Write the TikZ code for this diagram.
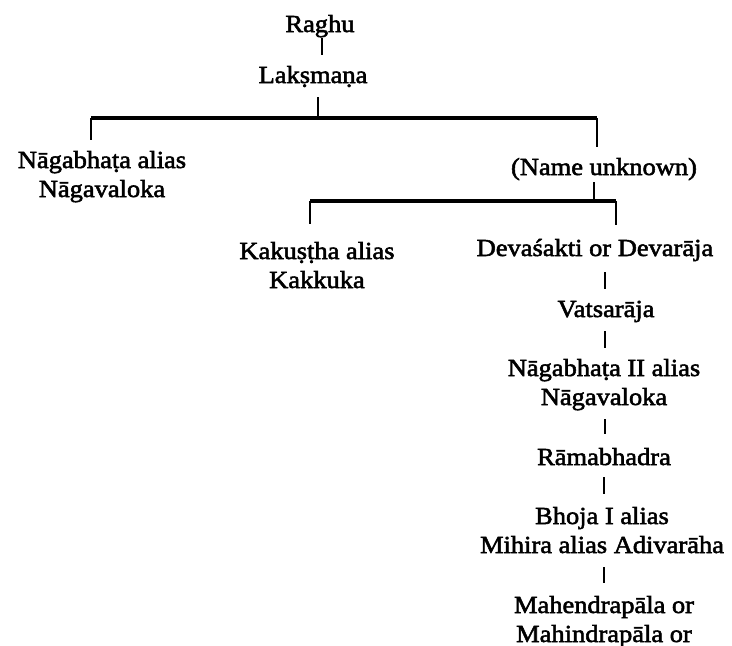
\documentclass[tikz,border=0pt]{standalone}
\usepackage{fontspec}
\setmainfont{Liberation Serif}[FakeStretch=1.08,FakeBold=2.2]
\usetikzlibrary{calc}
\begin{document}
\begin{tikzpicture}[x=1pt,y=-1pt,
  person/.style={inner sep=0pt,outer sep=0pt,align=center,anchor=base,font=\fontsize{24.5}{29}\selectfont},
  vline/.style={line width=2.6pt},
  bar/.style={line width=3.6pt},
  drop/.style={line width=2.8pt}]
\useasboundingbox (0,0) rectangle (732,646);
% nodes (anchor = baseline of the last line)
\node[person] (raghu) at (320,32) {Raghu};
\node[person] (laks) at (313,83) {Lakṣmaṇa};
\node[person] (nag1) at (102,197) {Nāgabhaṭa alias\\Nāgavaloka};
\node[person] (nu) at (604,175) {(Name unknown)};
\node[person] (kak) at (317,288) {Kakuṣṭha alias\\Kakkuka};
\node[person] (dev) at (595,256) {Devaśakti or Devarāja};
\node[person] (vat) at (606,317) {Vatsarāja};
\node[person] (nag2) at (604,405) {Nāgabhaṭa II alias\\Nāgavaloka};
\node[person] (rama) at (604,465) {Rāmabhadra};
\node[person] (bhoja) at (602,553) {Bhoja I alias\\Mihira alias Adivarāha};
\node[person] (mahe) at (604,642) {Mahendrapāla or\\Mahindrapāla or};
% bar coordinates
\coordinate (j1) at (318,118);
\coordinate (b1l) at (91,118);
\coordinate (b1r) at (597,118);
\coordinate (j2) at (594,201);
\coordinate (b2l) at (310,201);
\coordinate (b2r) at (616,201);
% connectors
\draw[vline] ($(raghu.base)+(2,6)$) -- ($(laks.base)+(9,-28)$);
\draw[vline] ($(laks.base)+(5,14)$) -- (j1);
\draw[bar] (b1l) -- (b1r);
\draw[drop] (b1l) -- ($(b1l |- nag1.base)+(0,-57)$);
\draw[drop] (b1r) -- ($(b1r |- nu.base)+(0,-28)$);
\draw[vline] ($(nu.base -| j2)+(0,7)$) -- (j2);
\draw[bar] (b2l) -- (b2r);
\draw[drop] (b2l) -- ($(b2l |- kak.base)+(0,-64)$);
\draw[drop] (b2r) -- ($(b2r |- dev.base)+(0,-31)$);
\draw[vline] ($(dev.base)+(10,16)$) -- ($(vat.base)+(-1,-28)$);
\draw[vline] ($(vat.base)+(-1,14)$) -- ($(nag2.base)+(1,-57)$);
\draw[vline] ($(nag2.base)+(1,14)$) -- ($(rama.base)+(1,-31)$);
\draw[vline] ($(rama.base)+(0,12)$) -- ($(bhoja.base)+(2,-59)$);
\draw[vline] ($(bhoja.base)+(2,14)$) -- ($(mahe.base)+(0,-59)$);
\end{tikzpicture}
\end{document}
